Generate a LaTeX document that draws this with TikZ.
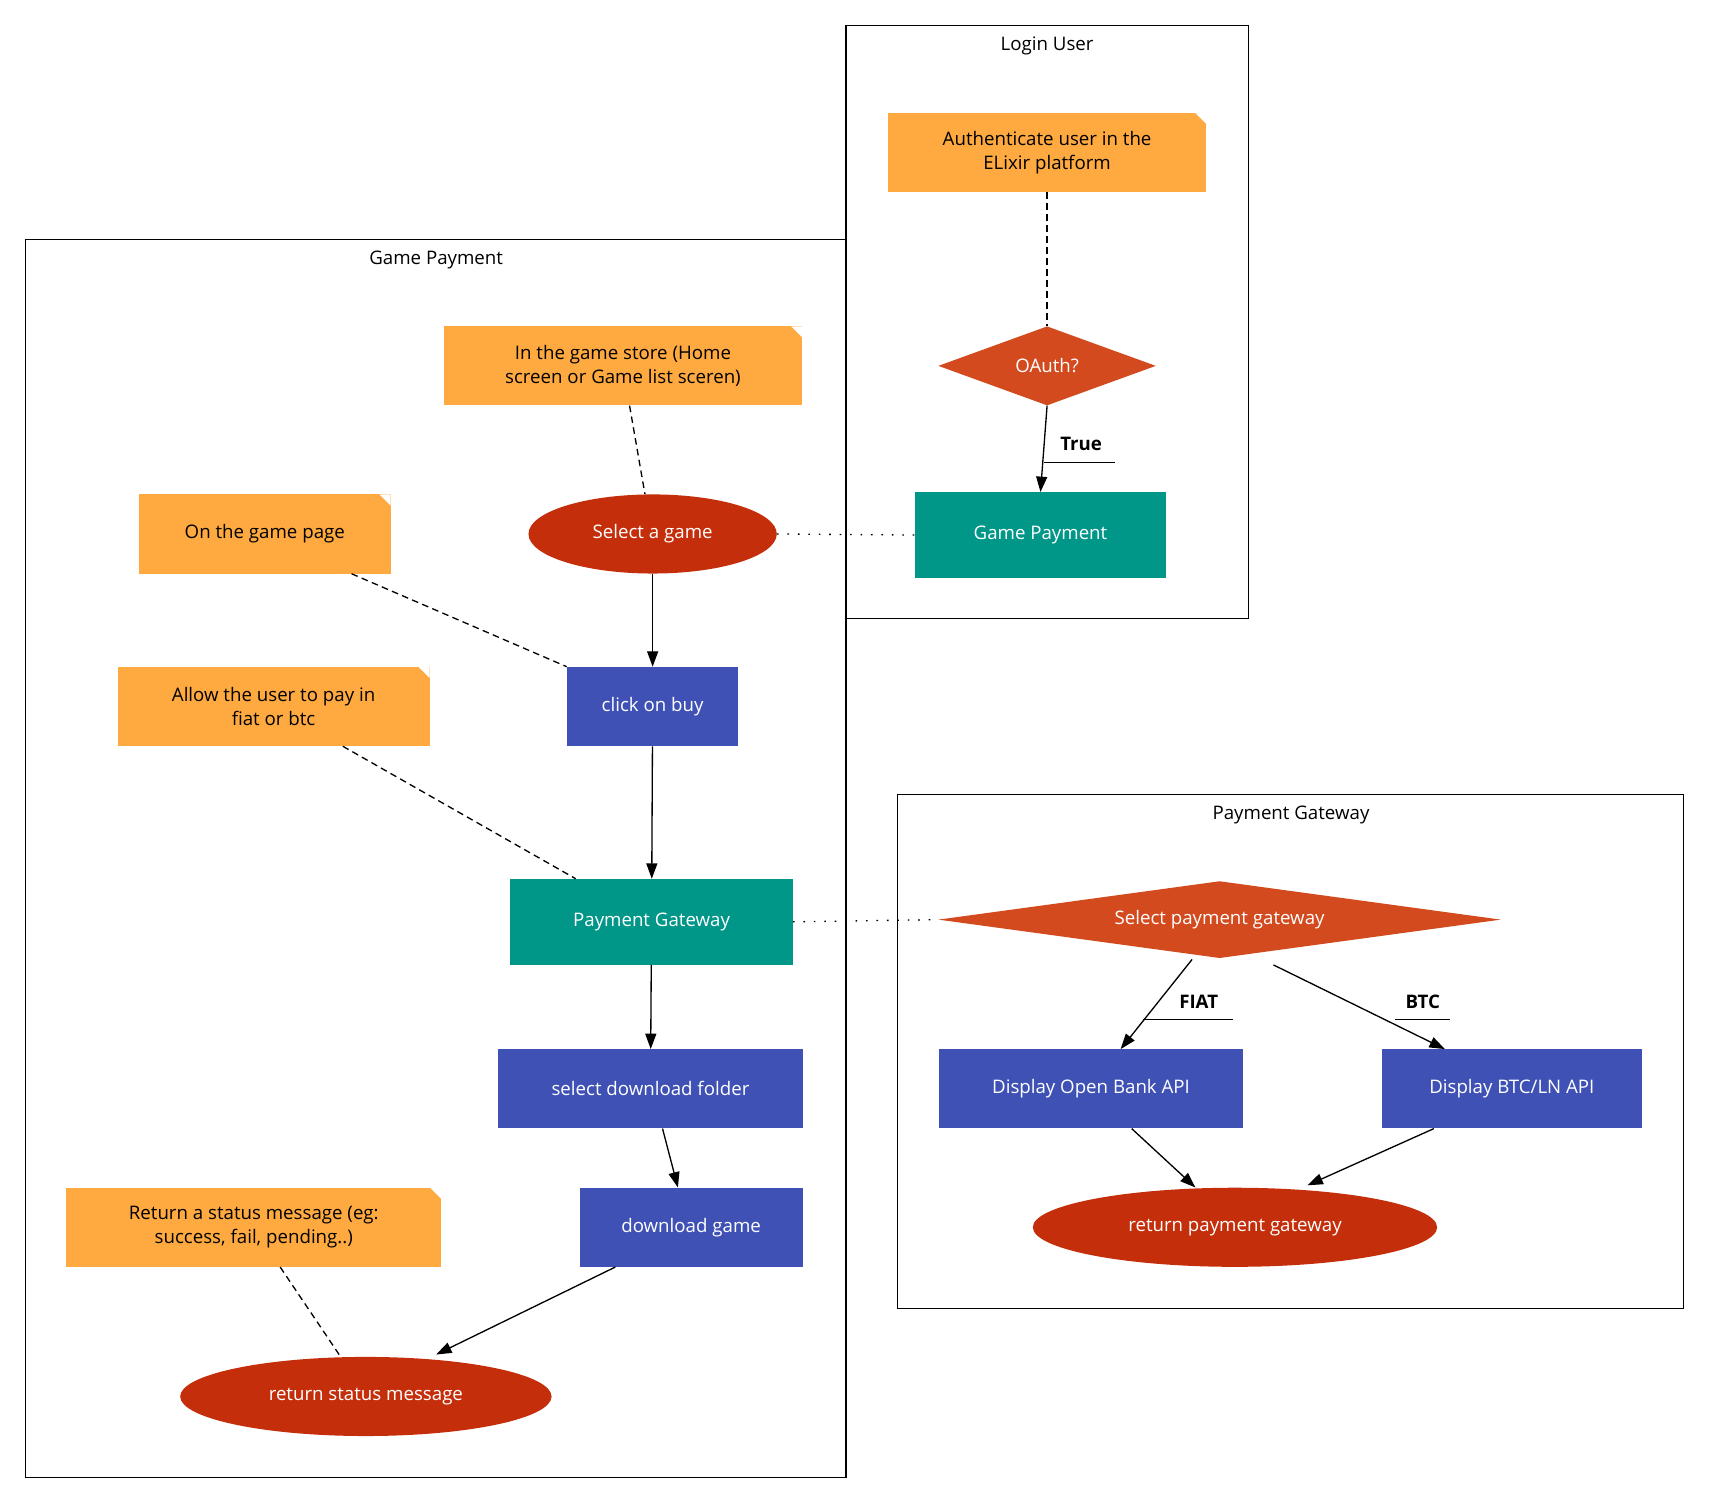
\documentclass[tikz,border=0pt]{standalone}
\usepackage{fontspec}
\setmainfont{Open Sans}
\usetikzlibrary{shapes.geometric,shapes.misc,arrows.meta}
\definecolor{noteor}{HTML}{FFAA40}
\definecolor{diam}{HTML}{D24A1E}
\definecolor{ell}{HTML}{C42E0A}
\definecolor{teal}{HTML}{009688}
\definecolor{blu}{HTML}{3F51B5}
\begin{document}
\begin{tikzpicture}[x=1pt,y=-1pt,
  every node/.style={font=\fontsize{17}{22}\selectfont},
  note/.style={fill=noteor,inner sep=0,align=center,
    path picture={\fill[white] ([xshift=-10pt]path picture bounding box.north east) -- (path picture bounding box.north east) -- ([yshift=-10pt]path picture bounding box.north east) -- cycle;}},
  box/.style={draw=none,inner sep=0,text=white},
  ellnode/.style={ellipse,fill=ell,text=white,inner sep=0},
  dia/.style={diamond,fill=diam,text=white,inner sep=0,aspect=3},
  clus/.style={draw,line width=1.2pt},
  arr/.style={-{Triangle[length=14pt,width=10pt]},line width=1.2pt},
  dsh/.style={dashed,line width=1.2pt,dash pattern=on 6pt off 4pt},
  dot/.style={dotted,line width=1.2pt,dash pattern=on 1.5pt off 8pt},
  lab/.style={font=\fontsize{17}{22}\selectfont\bfseries}
]
\useasboundingbox (0,0) rectangle (1560,1375);
% clusters
\draw[clus] (770,23) rectangle (1136,563);
\node (lu) at (953,42) {Login User};
\draw[clus] (23,218) rectangle (770,1345);
\node (gpl) at (397,237) {Game Payment};
\draw[clus] (817,723) rectangle (1532,1191);
\node (pgl) at (1175,742) {Payment Gateway};
% login
\node[note,minimum width=290,minimum height=72] (auth) at (953,139) {Authenticate user in the\\ELixir platform};
\node[dia,minimum width=198,minimum height=72] (oauth) at (953,333) {OAuth?};
\node[box,fill=teal,minimum width=228,minimum height=78] (gp) at (947,487) {Game Payment};
% game payment
\node[note,minimum width=326,minimum height=72] (store) at (567,333) {In the game store (Home\\screen or Game list sceren)};
\node[ellnode,minimum width=226,minimum height=72] (sel) at (594,486) {Select a game};
\node[note,minimum width=229,minimum height=72] (page) at (241,486) {On the game page};
\node[box,fill=blu,minimum width=156,minimum height=72] (buy) at (594,643) {click on buy};
\node[note,minimum width=284,minimum height=72] (allow) at (249,643) {Allow the user to pay in\\fiat or btc};
\node[box,fill=teal,minimum width=257,minimum height=78] (pg) at (593,839) {Payment Gateway};
\node[box,fill=blu,minimum width=277,minimum height=72] (fold) at (592,991) {select download folder};
\node[box,fill=blu,minimum width=203,minimum height=72] (dl) at (629,1117) {download game};
\node[note,minimum width=341,minimum height=72] (ret) at (231,1117) {Return a status message (eg:\\success, fail, pending..)};
\node[ellnode,minimum width=338,minimum height=72] (rs) at (333,1271) {return status message};
% payment gateway
\node[dia,aspect=7.3,minimum width=512,minimum height=70] (spg) at (1110,837) {Select payment gateway};
\node[box,fill=blu,minimum width=277,minimum height=72] (ob) at (993,991) {Display Open Bank API};
\node[box,fill=blu,minimum width=236,minimum height=72] (btc) at (1376,991) {Display BTC/LN API};
\node[ellnode,minimum width=368,minimum height=72] (rpg) at (1124,1117) {return payment gateway};
% dashed
\draw[dsh] (auth) -- (oauth.north);
\draw[dsh] ([xshift=6pt]store.south) -- ([xshift=-7pt]sel.north);
\draw[dsh] ([xshift=79pt]page.south) -- (buy.north west);
\draw[dsh] ([xshift=63pt]allow.south) -- ([xshift=-69pt]pg.north);
\draw[dsh] ([xshift=24pt]ret.south) -- ([xshift=-23pt]rs.north);
% dotted
\draw[dot] (sel.east) -- (gp.west);
\draw[dot] (pg.east) -- (spg.west);
% arrows
\draw[arr] (oauth.south) -- (gp.north);
\coordinate (tl) at (950,421);
\draw[line width=1.2pt] (tl) -- (1015,421);
\node[lab] (tt) at (984,404) {True};
\draw[arr] (sel) -- (buy);
\draw[arr] (buy) -- (pg);
\draw[arr] (pg) -- (fold);
\draw[arr] ([xshift=11pt]fold.south) -- ([xshift=-12pt]dl.north);
\draw[arr] ([xshift=-69pt]dl.south) -- ([xshift=64pt,yshift=2pt]rs.north);
\draw[arr] ([xshift=-25pt,yshift=-1pt]spg.south) -- ([xshift=27pt]ob.north);
\draw[line width=1.2pt] (1040,928) -- (1122,928);
\node[lab] (fiat) at (1091,912) {FIAT};
\draw[arr] ([xshift=49pt,yshift=-6pt]spg.south) -- ([xshift=-61pt]btc.north);
\draw[line width=1.2pt] (1270,928) -- (1320,928);
\node[lab] (bt) at (1295,912) {BTC};
\draw[arr] ([xshift=37pt]ob.south) -- ([xshift=-36pt]rpg.north);
\draw[arr] ([xshift=-71pt]btc.south) -- ([xshift=66pt,yshift=2pt]rpg.north);
\end{tikzpicture}
\end{document}
